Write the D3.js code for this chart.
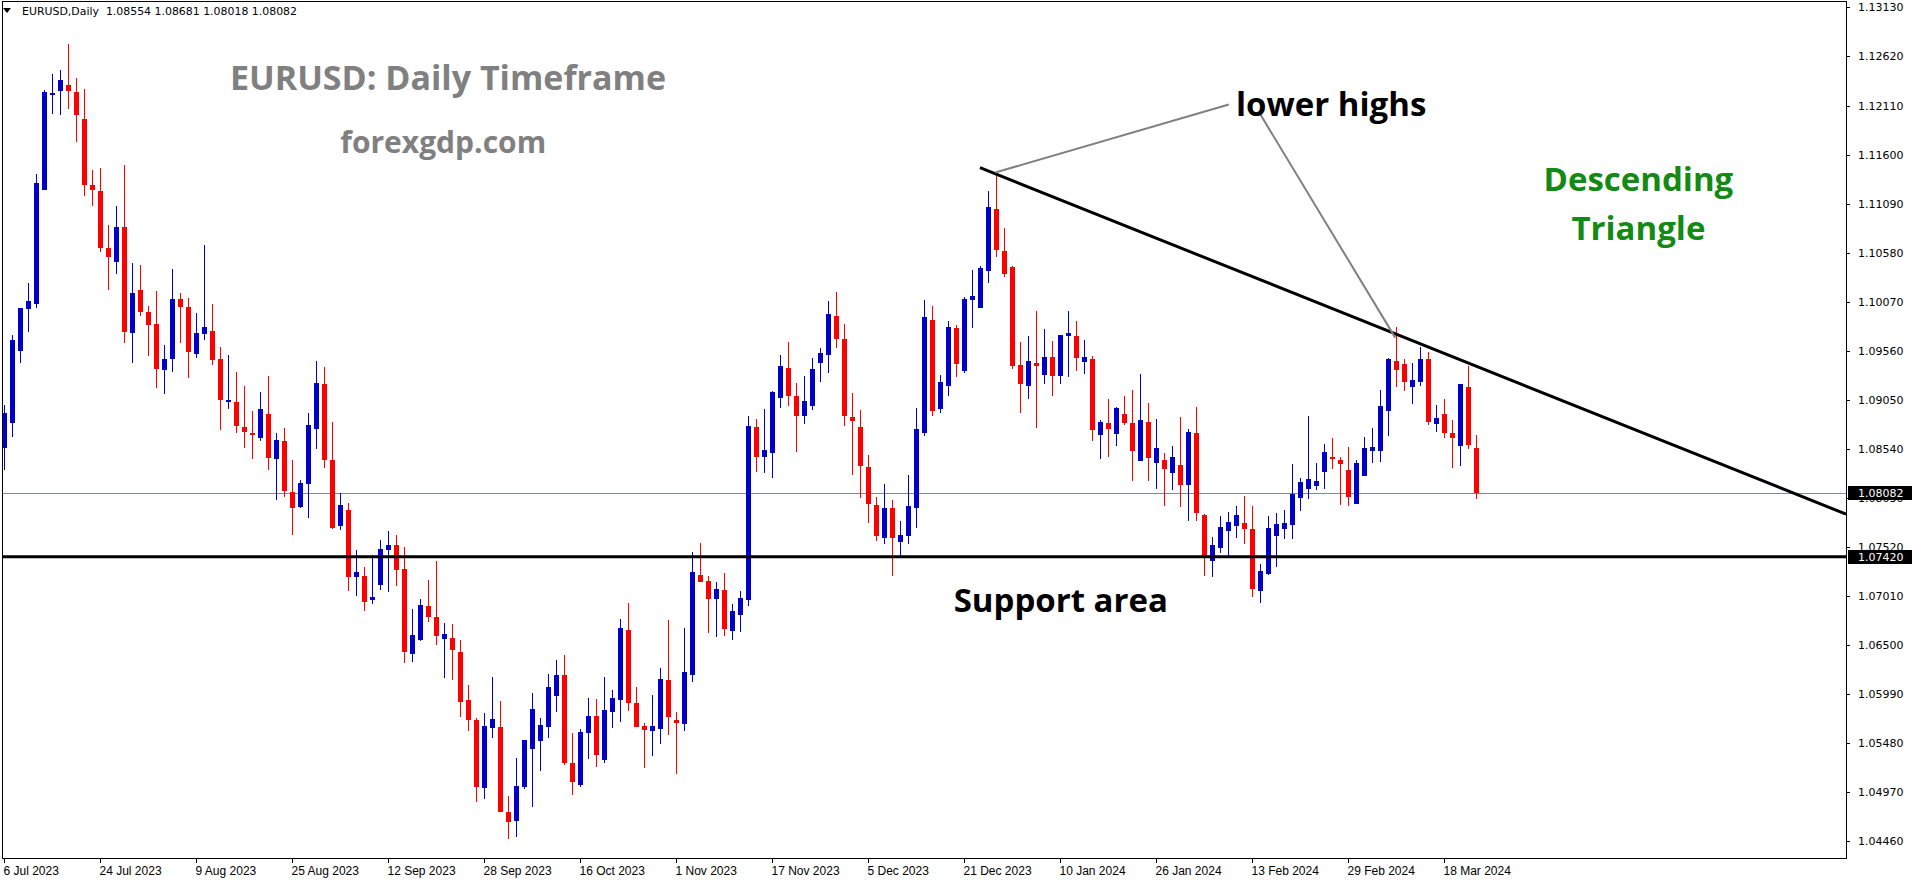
<!DOCTYPE html>
<html><head><meta charset="utf-8">
<script src="https://cdn.jsdelivr.net/npm/d3@7"></script>
<style>body{margin:0;background:#fff;overflow:hidden}svg{display:block}</style>
</head><body>
<svg id="c" width="1916" height="884"></svg>
<script>
// ---- data (EURUSD daily, 6 Jul 2023 .. 22 Mar 2024, one bar per trading day) ----
const open  = [1.0855,1.0881,1.0956,1.0999,1.1005,1.1123,1.1222,1.1226,1.1232,1.1225,1.1197,1.1128,1.1122,1.1063,1.1048,1.1085,1.0975,1.1019,1.0996,1.0984,
1.0936,1.0948,1.1010,1.1002,1.0953,1.0973,1.0977,1.0948,1.0904,1.0903,1.0877,1.0871,1.0865,1.0890,1.0844,1.0862,1.0809,1.0794,1.0818,1.0875,
1.0922,1.0842,1.0774,1.0791,1.0721,1.0722,1.0697,1.0713,1.0749,1.0754,1.0729,1.0641,1.0655,1.0691,1.0679,1.0656,1.0657,1.0643,1.0593,1.0572,
1.0501,1.0564,1.0565,1.0477,1.0467,1.0503,1.0542,1.0550,1.0565,1.0597,1.0619,1.0527,1.0505,1.0559,1.0576,1.0531,1.0581,1.0593,1.0666,1.0590,
1.0566,1.0561,1.0563,1.0614,1.0572,1.0568,1.0619,1.0723,1.0717,1.0698,1.0707,1.0665,1.0681,1.0697,1.0877,1.0846,1.0850,1.0907,1.0938,1.0909,
1.0888,1.0899,1.0943,1.0952,1.0992,1.0968,1.0887,1.0877,1.0835,1.0796,1.0761,1.0793,1.0757,1.0763,1.0793,1.0871,1.0988,1.0895,1.0919,1.0980,
1.0935,1.1009,1.1001,1.1039,1.1103,1.1060,1.1043,1.0941,1.0919,1.0943,1.0931,1.0950,1.0930,1.0971,1.0971,1.0944,1.0947,1.0869,1.0881,1.0870,
1.0890,1.0881,1.0841,1.0882,1.0839,1.0842,1.0829,1.0837,1.0816,1.0871,1.0785,1.0738,1.0751,1.0769,1.0774,1.0777,1.0771,1.0706,1.0724,1.0764,
1.0771,1.0775,1.0803,1.0812,1.0815,1.0830,1.0846,1.0843,1.0832,1.0797,1.0826,1.0852,1.0852,1.0893,1.0945,1.0942,1.0918,1.0924,1.0947,1.0880,
1.0890,1.0871,1.0857,1.0918,1.08554];
const high  = [1.0900,1.0972,1.1001,1.1026,1.1140,1.1227,1.1244,1.1248,1.1275,1.1240,1.1228,1.1144,1.1146,1.1087,1.1107,1.1149,1.1047,1.1045,1.1003,1.1018,
1.0962,1.1041,1.1016,1.1011,1.0995,1.1066,1.1005,1.0960,1.0952,1.0934,1.0919,1.0893,1.0913,1.0930,1.0871,1.0876,1.0842,1.0822,1.0891,1.0945,
1.0939,1.0882,1.0808,1.0798,1.0749,1.0731,1.0744,1.0759,1.0769,1.0765,1.0752,1.0688,1.0698,1.0718,1.0737,1.0673,1.0672,1.0655,1.0609,1.0574,
1.0579,1.0617,1.0592,1.0493,1.0533,1.0551,1.0600,1.0574,1.0620,1.0635,1.0640,1.0559,1.0563,1.0595,1.0594,1.0617,1.0603,1.0677,1.0694,1.0607,
1.0569,1.0598,1.0626,1.0676,1.0581,1.0668,1.0747,1.0756,1.0722,1.0716,1.0725,1.0693,1.0706,1.0888,1.0885,1.0896,1.0914,1.0952,1.0965,1.0923,
1.0930,1.0949,1.0959,1.1008,1.1017,1.0984,1.0912,1.0894,1.0848,1.0804,1.0818,1.0801,1.0779,1.0827,1.0897,1.1009,1.1003,1.0931,1.0987,1.0983,
1.1012,1.1040,1.1044,1.1122,1.1140,1.1084,1.1044,1.0965,1.0971,1.0997,1.0979,1.0966,1.0972,1.0997,1.0987,1.0967,1.0951,1.0884,1.0906,1.0898,
1.0909,1.0915,1.0932,1.0902,1.0885,1.0850,1.0857,1.0887,1.0875,1.0898,1.0786,1.0762,1.0784,1.0788,1.0795,1.0805,1.0795,1.0734,1.0784,1.0787,
1.0790,1.0838,1.0824,1.0888,1.0839,1.0859,1.0865,1.0846,1.0856,1.0843,1.0866,1.0876,1.0915,1.0949,1.0981,1.0948,1.0943,1.0960,1.0955,1.0900,
1.0906,1.0884,1.0922,1.0940,1.08681];
const low   = [1.0832,1.0866,1.0943,1.0976,1.1000,1.1123,1.1202,1.1201,1.1207,1.1173,1.1117,1.1107,1.1059,1.1019,1.1036,1.0964,1.0943,1.0992,1.0951,1.0917,
1.0911,1.0934,1.0964,1.0928,1.0949,1.0967,1.0941,1.0874,1.0896,1.0871,1.0855,1.0844,1.0862,1.0832,1.0801,1.0804,1.0765,1.0793,1.0782,1.0854,
1.0834,1.0771,1.0770,1.0706,1.0701,1.0686,1.0693,1.0707,1.0705,1.0711,1.0631,1.0632,1.0654,1.0674,1.0650,1.0616,1.0614,1.0575,1.0561,1.0487,
1.0490,1.0554,1.0477,1.0448,1.0451,1.0500,1.0482,1.0519,1.0554,1.0581,1.0525,1.0494,1.0503,1.0532,1.0523,1.0528,1.0564,1.0570,1.0582,1.0565,
1.0522,1.0535,1.0547,1.0557,1.0516,1.0561,1.0612,1.0716,1.0663,1.0659,1.0660,1.0655,1.0664,1.0691,1.0830,1.0829,1.0824,1.0897,1.0899,1.0851,
1.0880,1.0894,1.0924,1.0933,1.0959,1.0878,1.0827,1.0803,1.0777,1.0758,1.0755,1.0722,1.0743,1.0755,1.0772,1.0867,1.0888,1.0891,1.0909,1.0929,
1.0933,1.0980,1.1001,1.1027,1.1054,1.1033,1.0937,1.0891,1.0906,1.0876,1.0922,1.0909,1.0922,1.0929,1.0935,1.0932,1.0862,1.0844,1.0846,1.0857,
1.0879,1.0821,1.0841,1.0821,1.0812,1.0795,1.0811,1.0794,1.0779,1.0779,1.0722,1.0721,1.0746,1.0742,1.0761,1.0755,1.0700,1.0694,1.0723,1.0731,
1.0760,1.0760,1.0789,1.0802,1.0811,1.0812,1.0833,1.0796,1.0795,1.0797,1.0826,1.0839,1.0840,1.0867,1.0918,1.0914,1.0901,1.0919,1.0879,1.0872,
1.0865,1.0834,1.0836,1.0854,1.08018];
const close = [1.0891,1.0967,1.1000,1.1008,1.1130,1.1225,1.1224,1.1238,1.1226,1.1201,1.1128,1.1123,1.1063,1.1054,1.1085,1.0976,1.1016,1.0996,1.0983,1.0937,
1.0948,1.1010,1.1002,1.0955,1.0974,1.0981,1.0946,1.0905,1.0905,1.0878,1.0872,1.0868,1.0896,1.0845,1.0863,1.0810,1.0793,1.0819,1.0879,1.0923,
1.0843,1.0772,1.0796,1.0721,1.0726,1.0695,1.0700,1.0750,1.0754,1.0728,1.0643,1.0661,1.0692,1.0679,1.0660,1.0662,1.0645,1.0591,1.0572,1.0503,
1.0566,1.0573,1.0477,1.0466,1.0504,1.0551,1.0584,1.0567,1.0606,1.0619,1.0528,1.0508,1.0560,1.0576,1.0536,1.0583,1.0595,1.0668,1.0590,1.0565,
1.0562,1.0566,1.0615,1.0575,1.0569,1.0622,1.0726,1.0716,1.0698,1.0708,1.0667,1.0685,1.0699,1.0878,1.0846,1.0853,1.0913,1.0940,1.0909,1.0888,
1.0904,1.0937,1.0954,1.0994,1.0968,1.0888,1.0883,1.0836,1.0797,1.0763,1.0793,1.0761,1.0765,1.0795,1.0875,1.0991,1.0893,1.0924,1.0981,1.0942,
1.1010,1.1013,1.1042,1.1106,1.1061,1.1036,1.0940,1.0921,1.0945,1.0940,1.0950,1.0930,1.0972,1.0974,1.0949,1.0950,1.0874,1.0882,1.0875,1.0897,
1.0881,1.0852,1.0884,1.0845,1.0855,1.0833,1.0846,1.0817,1.0872,1.0787,1.0742,1.0754,1.0773,1.0778,1.0785,1.0771,1.0708,1.0727,1.0772,1.0776,
1.0777,1.0807,1.0820,1.0823,1.0821,1.0851,1.0844,1.0838,1.0804,1.0839,1.0855,1.0856,1.0899,1.0948,1.0936,1.0924,1.0926,1.0948,1.0882,1.0886,
1.0871,1.0865,1.0922,1.0858,1.08082];

const timeTickIndex = [0,12,24,36,48,60,72,84,96,108,120,132,144,156,168,180];
const timeTickLabels = ["6 Jul 2023","24 Jul 2023","9 Aug 2023","25 Aug 2023","12 Sep 2023","28 Sep 2023","16 Oct 2023","1 Nov 2023",
  "17 Nov 2023","5 Dec 2023","21 Dec 2023","10 Jan 2024","26 Jan 2024","13 Feb 2024","29 Feb 2024","18 Mar 2024"];
const priceTicks = [1.13130,1.12620,1.12110,1.11600,1.11090,1.10580,1.10070,1.09560,1.09050,1.08540,1.08030,1.07520,1.07010,1.06500,1.05990,1.05480,1.04970,1.04460];
const lastPrice = 1.08082;
const supportLevel = 1.07420;
const headerText = "EURUSD,Daily  1.08554 1.08681 1.08018 1.08082";
// trendline anchors: [bar index, price]
const trendA = [122, 1.11464], trendB = [184, 1.09401];
// pointer lines from "lower highs" label: [bar, price] pairs
const pointer1 = [[123.9, 1.11414], [153.1, 1.12120]];
const pointer2 = [[156.9, 1.12037], [173.9, 1.09697]];
// annotation texts: [text, bar, price, colour, size]
const notes = [
  ["EURUSD: Daily Timeframe", 55.5, 1.12406, "#808080", 34],
  ["forexgdp.com", 54.9, 1.11731, "#808080", 30],
  ["lower highs", 165.9, 1.12126, "#000000", 33],
  ["Descending", 204.3, 1.11356, "#138a13", 33],
  ["Triangle", 204.3, 1.10847, "#138a13", 33],
  ["Support area", 132.1, 1.06970, "#000000", 33]
];

// ---- layout ----
const W = 1916, H = 884;
const L = 2, T = 1, R = 1846, B = 858;
const svg = d3.select("#c");
svg.append("rect").attr("width", W).attr("height", H).attr("fill", "#fff");

const x = d3.scaleLinear().domain([0, 184]).range([4, 4 + 8 * 184]);
const y = d3.scaleLinear().domain([1.04460, 1.13130]).range([841.4, 7.4]);

svg.append("defs").append("clipPath").attr("id", "clip")
  .append("rect").attr("x", L + 1).attr("y", T + 1).attr("width", R - L - 1).attr("height", B - T - 1);
const plot = svg.append("g").attr("clip-path", "url(#clip)");

// current price line
plot.append("line").attr("x1", L).attr("x2", R)
  .attr("y1", Math.round(y(lastPrice)) + 0.5).attr("y2", Math.round(y(lastPrice)) + 0.5)
  .attr("stroke", "#7f8b99").attr("stroke-width", 1);

// candles
const idx = d3.range(close.length);
const blue = "#0000cd", red = "#ff0000";
const cg = plot.append("g");
cg.selectAll("rect.wick").data(idx).join("rect").attr("class", "wick")
  .attr("x", i => Math.round(x(i)))
  .attr("width", 1)
  .attr("y", i => Math.round(y(high[i])))
  .attr("height", i => Math.max(1, Math.round(y(low[i])) - Math.round(y(high[i]))))
  .attr("fill", i => close[i] >= open[i] ? blue : red);
cg.selectAll("rect.body").data(idx).join("rect").attr("class", "body")
  .attr("x", i => Math.round(x(i)) - 2)
  .attr("width", 5)
  .attr("y", i => Math.round(y(Math.max(open[i], close[i]))))
  .attr("height", i => Math.max(2, Math.round(y(Math.min(open[i], close[i]))) - Math.round(y(Math.max(open[i], close[i])))))
  .attr("fill", i => close[i] >= open[i] ? blue : red);

// support line
plot.append("line").attr("x1", L).attr("x2", R)
  .attr("y1", y(supportLevel)).attr("y2", y(supportLevel))
  .attr("stroke", "#000").attr("stroke-width", 3);

// trendline ray
const tx1 = x(trendA[0]), ty1 = y(trendA[1]);
const slope = (y(trendB[1]) - ty1) / (x(trendB[0]) - tx1);
plot.append("line").attr("x1", tx1).attr("y1", ty1)
  .attr("x2", R).attr("y2", ty1 + slope * (R - tx1))
  .attr("stroke", "#000").attr("stroke-width", 3);

// pointer lines
[pointer1, pointer2].forEach(p => {
  plot.append("line").attr("x1", x(p[0][0])).attr("y1", y(p[0][1]))
    .attr("x2", x(p[1][0])).attr("y2", y(p[1][1]))
    .attr("stroke", "#808080").attr("stroke-width", 2);
});

// annotation texts
plot.selectAll("text.note").data(notes).join("text").attr("class", "note")
  .attr("x", d => x(d[1])).attr("y", d => y(d[2]))
  .attr("text-anchor", "middle").attr("dominant-baseline", "central")
  .attr("font-family", "'Open Sans', sans-serif").attr("font-weight", 700)
  .attr("font-size", d => d[4]).attr("fill", d => d[3])
  .text(d => d[0]);

// frame
svg.append("rect").attr("x", L + 0.5).attr("y", T + 0.5).attr("width", R - L).attr("height", B - T)
  .attr("fill", "none").attr("stroke", "#000").attr("stroke-width", 1);

// price axis
const pa = svg.append("g");
priceTicks.forEach(p => {
  const yy = Math.round(y(p)) + 0.5;
  pa.append("line").attr("x1", R).attr("x2", R + 4).attr("y1", yy).attr("y2", yy).attr("stroke", "#000");
  pa.append("text").attr("x", R + 12).attr("y", yy).attr("dominant-baseline", "central")
    .attr("font-family", "'DejaVu Sans', sans-serif").attr("font-size", 11).attr("fill", "#000").text(p.toFixed(5));
});
[[lastPrice], [supportLevel]].forEach(([p]) => {
  const yy = Math.round(y(p));
  pa.append("rect").attr("x", R + 2).attr("y", yy - 7).attr("width", 64).attr("height", 14).attr("fill", "#000");
  pa.append("text").attr("x", R + 12).attr("y", yy + 0.5).attr("dominant-baseline", "central")
    .attr("font-family", "'DejaVu Sans', sans-serif").attr("font-size", 11).attr("fill", "#fff").text(p.toFixed(5));
});

// time axis
const ta = svg.append("g");
timeTickIndex.forEach((b, k) => {
  const xx = Math.round(x(b)) + 0.5;
  ta.append("line").attr("x1", xx).attr("x2", xx).attr("y1", B).attr("y2", B + 5).attr("stroke", "#000");
  ta.append("text").attr("x", xx - 1).attr("y", B + 17).attr("font-family", "'Liberation Sans', sans-serif")
    .attr("font-size", 12).attr("fill", "#000").text(timeTickLabels[k]);
});

// header
svg.append("path").attr("d", "M3,8 L11,8 L7,13 Z").attr("fill", "#000");
svg.append("text").attr("x", 22).attr("y", 15).attr("font-family", "'DejaVu Sans', sans-serif")
  .attr("font-size", 11).attr("textLength", 275).attr("lengthAdjust", "spacingAndGlyphs")
  .attr("fill", "#000").style("white-space", "pre").text(headerText);
</script>
</body></html>
